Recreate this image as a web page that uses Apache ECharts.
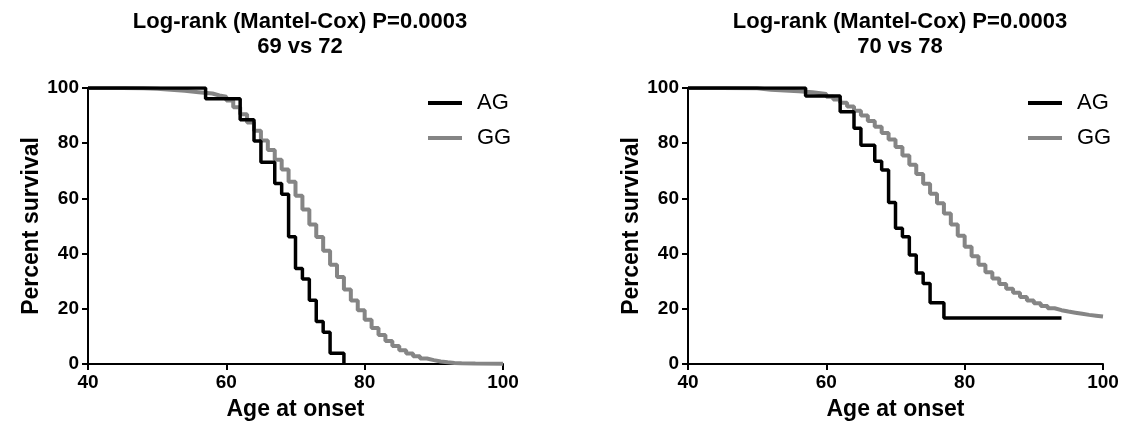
<!DOCTYPE html>
<html>
<head>
<meta charset="utf-8">
<script src="https://cdn.jsdelivr.net/npm/echarts@6/dist/echarts.min.js"></script>
<style>
  html, body { margin: 0; padding: 0; background: #fff; }
  #chart { width: 1132px; height: 434px; }
</style>
</head>
<body>
<div id="chart"></div>
<script>
// left panel (69 vs 72): ages where survival steps, and the level after each step
var leftAgAges = [40, 57, 62, 64, 65, 67, 68, 69, 70, 71, 72, 73, 74, 75, 77];
var leftAgSurv = [100, 96.15, 88.46, 80.77, 73.08, 65.38, 61.54, 46.15, 34.62, 30.77, 23.08, 15.38, 11.54, 3.85, 0];

var leftGgAges = [40, 45, 48, 50, 52, 54, 56, 58, 59, 60, 61, 62, 63, 64, 65, 66, 67, 68, 69, 70,
    71, 72, 73, 74, 75, 76, 77, 78, 79, 80, 81, 82, 83, 84, 85, 86, 87, 88, 89, 90, 91, 92, 93, 94, 96, 100];
var leftGgSurv = [100, 99.9, 99.7, 99.4, 99.0, 98.5, 98.0, 97.3, 96.8, 95.5, 93.0, 90.5, 87.5, 84.5, 81, 77.5, 74, 70.5, 66, 61,
    56, 50.5, 46, 41, 36, 31.5, 27, 23, 19.5, 16, 13, 10.5, 8.3, 6.5, 5, 3.8, 2.8, 2, 1.4, 0.9, 0.6, 0.4, 0.25, 0.15, 0.05, 0];

// right panel (70 vs 78)
var rightAgAges = [40, 57, 62, 64, 65, 67, 68, 69, 70, 71, 72, 73, 74, 75, 77, 94];
var rightAgSurv = [100, 97.1, 91.4, 85.4, 79.3, 73.5, 70.3, 58.5, 49.2, 46.1, 39.5, 33.0, 29.2, 22.2, 16.7, 16.7];

var rightGgAges = [40, 45, 50, 52, 54, 56, 58, 60, 61, 62, 63, 64, 65, 66, 67, 68, 69, 70, 71, 72, 73, 74, 75,
    76, 77, 78, 79, 80, 81, 82, 83, 84, 85, 86, 87, 88, 89, 90, 91, 92, 93, 94, 95, 96, 97, 98, 99, 100];
var rightGgSurv = [100, 99.9, 99.4, 99.1, 98.8, 98.5, 97.8, 96.8, 95.8, 94.7, 93.3, 91.8, 90, 88, 86, 83.7, 81.3, 78.6, 75.5, 72.2, 68.8, 65.3, 61.7,
    58.2, 54.5, 50.5, 46.5, 42.5, 39, 36, 33.2, 31, 29, 27.3, 25.8, 24.3, 23, 22, 21, 20.2, 19.5, 19, 18.6, 18.2, 17.8, 17.5, 17.2, 17.1];

var titles = ['Log-rank (Mantel-Cox) P=0.0003\n69 vs 72', 'Log-rank (Mantel-Cox) P=0.0003\n70 vs 78'];
var groupNames = ['AG', 'GG'];

var font = '"Liberation Sans", Arial, Helvetica, sans-serif';

function pairs(xs, ys) {
    return xs.map(function (x, i) { return [x, ys[i]]; });
}

function xAxisFor(idx) {
    return {
        gridIndex: idx,
        type: 'value',
        min: 40,
        max: 100,
        interval: 20,
        name: 'Age at onset',
        nameLocation: 'middle',
        nameGap: 34,
        nameTextStyle: { fontFamily: font, fontWeight: 'bold', fontSize: 23, color: '#000' },
        axisLine: { lineStyle: { color: '#000', width: 2 } },
        axisTick: { length: 6, lineStyle: { color: '#000', width: 2 } },
        axisLabel: { margin: 9, fontFamily: font, fontWeight: 'bold', fontSize: 19, color: '#000' },
        splitLine: { show: false }
    };
}

function yAxisFor(idx) {
    return {
        gridIndex: idx,
        type: 'value',
        min: 0,
        max: 100,
        interval: 20,
        name: 'Percent survival',
        nameLocation: 'middle',
        nameRotate: 90,
        nameGap: 41,
        nameTextStyle: { fontFamily: font, fontWeight: 'bold', fontSize: 23, color: '#000' },
        axisLine: { show: true, lineStyle: { color: '#000', width: 2 } },
        axisTick: { show: true, length: 6, lineStyle: { color: '#000', width: 2 } },
        axisLabel: { margin: 9, fontFamily: font, fontWeight: 'bold', fontSize: 19, color: '#000' },
        splitLine: { show: false }
    };
}

function stepSeries(name, idx, data, color, width) {
    return {
        name: name,
        type: 'line',
        step: 'end',
        xAxisIndex: idx,
        yAxisIndex: idx,
        data: data,
        showSymbol: false,
        symbol: 'none',
        animation: false,
        lineStyle: { color: color, width: width },
        itemStyle: { color: color }
    };
}

function legendFor(x) {
    return {
        orient: 'vertical',
        left: x,
        top: 92,
        padding: 0,
        itemGap: 13,
        itemWidth: 34,
        itemHeight: 4,
        icon: 'rect',
        data: groupNames,
        textStyle: { fontFamily: font, fontSize: 22, color: '#000', padding: [0, 0, 0, 10] }
    };
}

var chart = echarts.init(document.getElementById('chart'));

var option = {
    backgroundColor: '#fff',
    animation: false,
    title: titles.map(function (t, i) {
        return {
            text: t,
            left: 295 + i * 600,
            top: 4,
            textAlign: 'center',
            textStyle: { fontFamily: font, fontWeight: 'bold', fontSize: 22, lineHeight: 25, color: '#000' }
        };
    }),
    legend: [legendFor(428), legendFor(1028)],
    grid: [
        { left: 88, top: 88, width: 415, height: 276 },
        { left: 688, top: 88, width: 415, height: 276 }
    ],
    xAxis: [xAxisFor(0), xAxisFor(1)],
    yAxis: [yAxisFor(0), yAxisFor(1)],
    series: [
        stepSeries('GG', 0, pairs(leftGgAges, leftGgSurv), '#858585', 4),
        stepSeries('AG', 0, pairs(leftAgAges, leftAgSurv), '#000', 3.5),
        stepSeries('GG', 1, pairs(rightGgAges, rightGgSurv), '#858585', 4),
        stepSeries('AG', 1, pairs(rightAgAges, rightAgSurv), '#000', 3.5)
    ]
};

chart.setOption(option);
</script>
</body>
</html>
